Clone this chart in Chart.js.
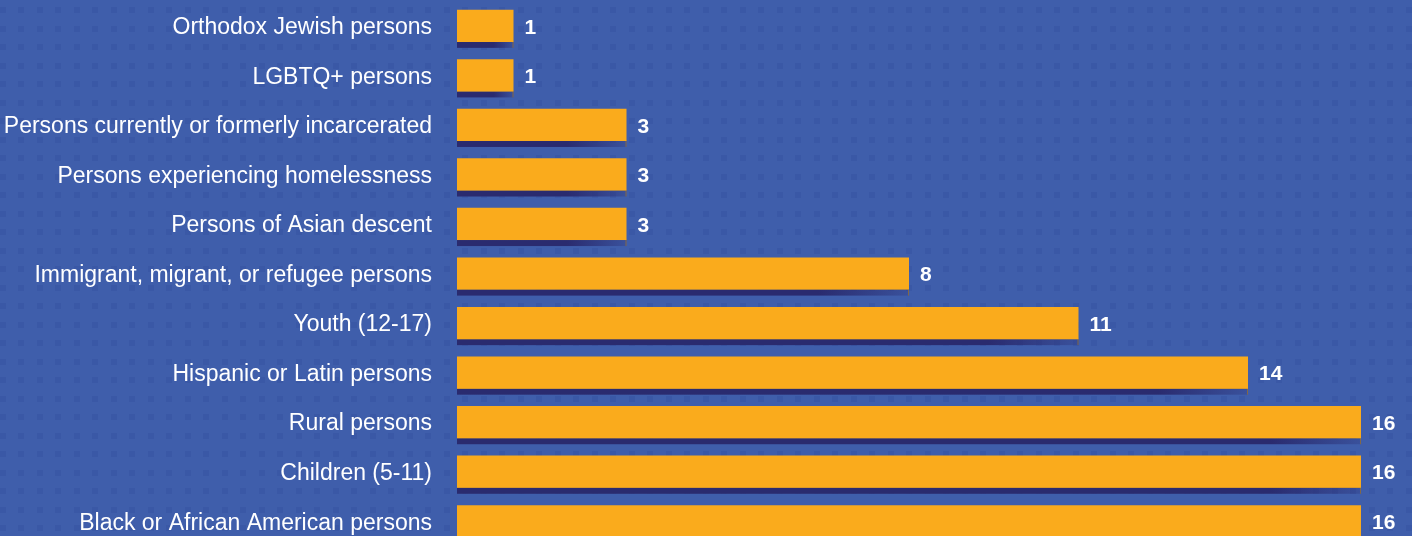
<!DOCTYPE html>
<html>
<head>
<meta charset="utf-8">
<script src="https://cdn.jsdelivr.net/npm/chart.js@4"></script>
<style>
html,body{margin:0;padding:0;overflow:hidden;background:#3f5eab;width:1412px;height:536px;}
#wrap{position:absolute;left:0;top:0;width:1412px;height:546px;}
</style>
</head>
<body>
<div id="wrap"><canvas id="c" width="1412" height="546"></canvas></div>
<script>
const categories = [
  "Orthodox Jewish persons",
  "LGBTQ+ persons",
  "Persons currently or formerly incarcerated",
  "Persons experiencing homelessness",
  "Persons of Asian descent",
  "Immigrant, migrant, or refugee persons",
  "Youth (12-17)",
  "Hispanic or Latin persons",
  "Rural persons",
  "Children (5-11)",
  "Black or African American persons"
];
const counts = [1, 1, 3, 3, 3, 8, 11, 14, 16, 16, 16];

const BG = '#3f5eab';
const BAR = '#faab1c';
const SHADOW = '#2a2b6f';

const backgroundPlugin = {
  id: 'bgDots',
  beforeDraw(chart) {
    const ctx = chart.ctx;
    ctx.save();
    ctx.fillStyle = BG;
    ctx.fillRect(0, 0, chart.width, chart.height);
    ctx.fillStyle = 'rgba(45,72,150,0.25)';
    const pitch = 18.5;
    for (let y = 7; y < chart.height; y += pitch) {
      for (let x = -0.5; x < chart.width; x += pitch) {
        ctx.fillRect(Math.round(x), Math.round(y), 6, 6);
      }
    }
    ctx.restore();
  }
};

const shadowPlugin = {
  id: 'barShadow',
  beforeDatasetsDraw(chart) {
    const ctx = chart.ctx;
    const meta = chart.getDatasetMeta(0);
    ctx.save();
    meta.data.forEach(bar => {
      const left = Math.min(bar.base, bar.x);
      const right = Math.max(bar.base, bar.x);
      const bottom = bar.y + bar.height / 2;
      const w = right - left;
      const fade = Math.min(90, w * 0.35);
      const g = ctx.createLinearGradient(left, 0, right, 0);
      g.addColorStop(0, SHADOW);
      g.addColorStop(Math.max(0, (w - fade) / w), SHADOW);
      g.addColorStop(1, 'rgba(42,43,111,0.25)');
      ctx.fillStyle = g;
      ctx.fillRect(left, bottom, w, 6);
      ctx.fillStyle = 'rgba(150,110,50,0.8)';
      ctx.fillRect(left, bottom - 1, w, 1);
      ctx.fillRect(right - 1, bottom, 1, 6);
    });
    ctx.restore();
  }
};

const valuePlugin = {
  id: 'values',
  afterDatasetsDraw(chart) {
    const ctx = chart.ctx;
    const meta = chart.getDatasetMeta(0);
    ctx.save();
    ctx.fillStyle = '#ffffff';
    ctx.font = 'bold 21px "Liberation Sans", Arial, sans-serif';
    ctx.textAlign = 'left';
    ctx.textBaseline = 'middle';
    meta.data.forEach((bar, i) => {
      ctx.fillText(String(counts[i]), bar.x + 11, bar.y + 2);
    });
    ctx.restore();
  }
};

new Chart(document.getElementById('c'), {
  type: 'bar',
  data: {
    labels: categories,
    datasets: [{
      data: counts,
      backgroundColor: BAR,
      borderWidth: 0,
      barPercentage: 0.65,
      categoryPercentage: 1.0
    }]
  },
  options: {
    indexAxis: 'y',
    responsive: false,
    animation: false,
    events: [],
    layout: { padding: { top: 1, right: 51, bottom: 0, left: 0 } },
    plugins: { legend: { display: false }, tooltip: { enabled: false } },
    scales: {
      x: {
        display: false,
        min: 0,
        max: 16
      },
      y: {
        grid: { display: false, drawTicks: false },
        border: { display: false },
        ticks: {
          color: '#ffffff',
          padding: 25,
          labelOffset: 2,
          font: { family: '"Liberation Sans", Arial, sans-serif', size: 23 }
        },
        afterFit(scale) {
          scale.width = 457;
          scale.paddingTop = 0;
          scale.paddingBottom = 0;
        }
      }
    }
  },
  plugins: [backgroundPlugin, shadowPlugin, valuePlugin]
});
</script>
</body>
</html>
